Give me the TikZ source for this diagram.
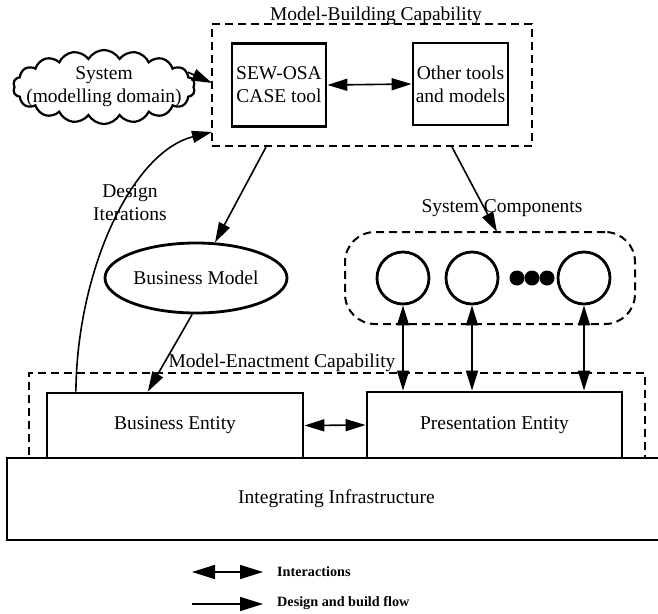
\documentclass[tikz,border=0pt]{standalone}
\usepackage{fontspec}
\setmainfont{Liberation Serif}
\usetikzlibrary{arrows.meta,shapes.symbols,shapes.geometric,calc}

\newcommand{\bigtxt}{\fontsize{19.5}{23}\selectfont}
\newcommand{\legtxt}{\fontsize{14.2}{17}\selectfont\bfseries}

\tikzset{
  solidbox/.style={draw, line width=2.8pt, inner sep=0pt, font=\bigtxt, align=center},
  dashbox/.style={draw, line width=2pt, dash pattern=on 8pt off 5pt, inner sep=0pt},
  tip/.tip={Triangle[length=20pt,width=12pt]},
  bigtip/.tip={Triangle[length=23pt,width=14pt]},
  flow/.style={line width=1.6pt, -tip},
  inter/.style={line width=1.6pt, tip-tip},
  comp/.style={circle, draw, line width=2.8pt, minimum size=52pt, inner sep=0pt},
  dot/.style={circle, fill, minimum size=15pt, inner sep=0pt},
  caption/.style={font=\bigtxt, inner sep=0pt, align=center},
}

\begin{document}
\begin{tikzpicture}[x=1pt, y=-1pt]
\useasboundingbox (0,0) rectangle (658,613);

% --- model-building capability ---
\node[dashbox, minimum width=320pt, minimum height=122pt] (mb) at (372,85) {};
\node[caption, anchor=base] (mbl) at (376,20) {Model-Building Capability};
\node[solidbox, minimum width=94pt, minimum height=83pt] (sew) at (279,85) {SEW-OSA\\CASE tool};
\node[solidbox, minimum width=95pt, minimum height=82pt] (oth) at (460.5,84) {Other tools\\and models};
\draw[inter] (sew.east) -- (oth.west);

% --- modelling domain cloud ---
\node[cloud, draw, line width=2.2pt, cloud puffs=18, cloud puff arc=120,
      cloud ignores aspect, minimum width=182pt, minimum height=74pt, inner sep=0pt] (sys) at (104,87) {};
\node[caption] (syst) at (104,87) {System\\(modelling domain)};
\coordinate (mbin) at (212,83);
\draw[flow] (sys.10) -- (mbin);

% --- business model ---
\node[ellipse, draw, line width=2.8pt, minimum width=182pt, minimum height=70pt, inner sep=0pt, font=\bigtxt]
  (bm) at (196,278) {Business Model};
\coordinate (mbout) at (266,147);
\draw[flow] (mbout) -- (bm);

% --- system components ---
\node[dashbox, rounded corners=30pt, minimum width=290pt, minimum height=92pt] (sc) at (490,278) {};
\node[caption, anchor=base] (scl) at (502,212) {System Components};
\node[comp] (c1) at (403,278) {};
\node[comp] (c2) at (472,278) {};
\node[comp] (c3) at (584,278) {};
\node[dot] (d1) at (517,278) {};
\node[dot] (d2) at (532,278) {};
\node[dot] (d3) at (547,278) {};
\coordinate (mbout2) at (452,147);
\coordinate (scin) at (497,232);
\draw[flow] (mbout2) -- (scin);

% --- model-enactment capability ---
\node[dashbox, minimum width=616pt, minimum height=85pt] (me) at (337,415.5) {};
\node[caption, anchor=base] (mel) at (282,367) {Model-Enactment Capability};
\node[solidbox, minimum width=256pt, minimum height=65pt] (be) at (175,425.5) {Business Entity};
\node[solidbox, minimum width=255pt, minimum height=66pt] (pe) at (494.5,425) {Presentation Entity};
\draw[inter] (be.east) -- (pe.west);
\draw[flow] (bm.-96) -- ($(be.north west)!0.395!(be.north east)$);
\foreach \c in {c1,c2,c3}
  \draw[inter] (\c.south) -- (\c.south |- pe.north);

% --- design iterations loop ---
\coordinate (itin) at (212,132);
\draw[flow] ($(be.north west)!0.117!(be.north east)$) .. controls (77,270) and (132,152) .. (itin);
\node[caption] (dit) at (130,203) {Design\\Iterations};

% --- integrating infrastructure ---
\draw[line width=2.8pt] (7,458) rectangle (672,540);
\node[caption] (infra) at (336.5,499) {Integrating Infrastructure};

% --- legend ---
\node[anchor=west, inner sep=0pt, font=\legtxt] (lint) at (277,572) {Interactions};
\node[anchor=west, inner sep=0pt, font=\legtxt] (lflow) at (277,603) {Design and build flow};
\coordinate (la) at (192,572);
\coordinate (lb) at (263,572);
\coordinate (lc) at (192,604);
\coordinate (ld) at (263,604);
\draw[line width=1.6pt, bigtip-bigtip] (la) -- (lb);
\draw[line width=1.6pt, -bigtip] (lc) -- (ld);
\end{tikzpicture}
\end{document}
